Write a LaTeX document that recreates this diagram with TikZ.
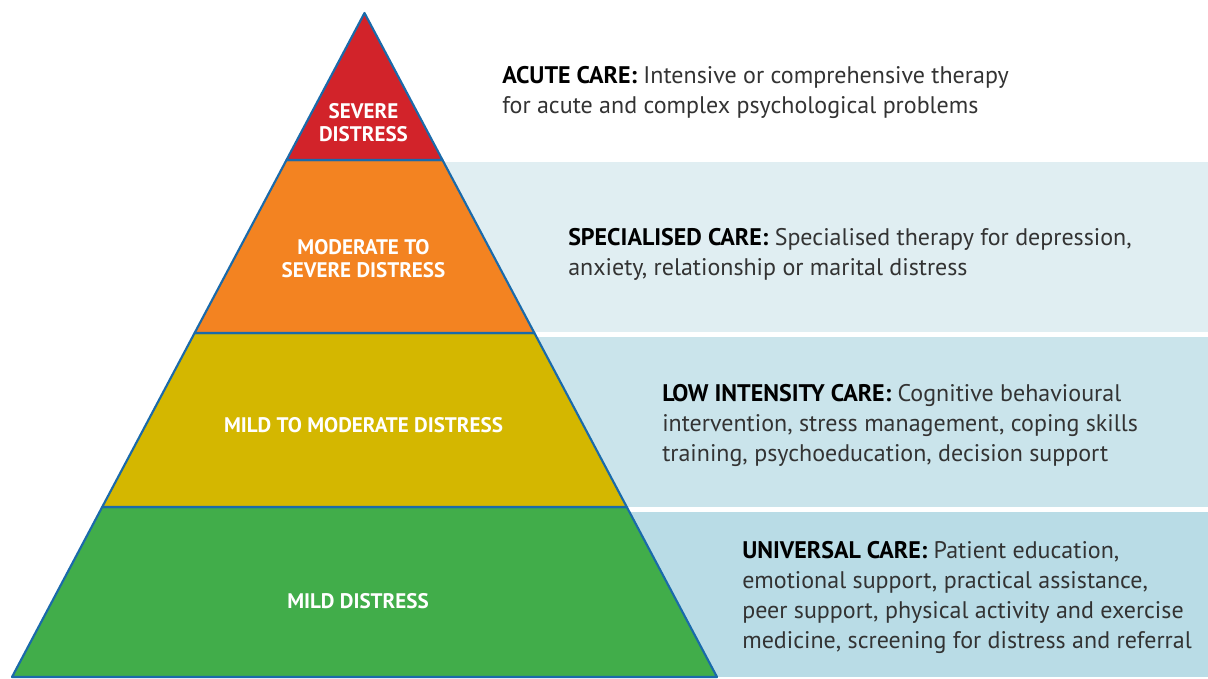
\documentclass[tikz,border=0pt]{standalone}
\usepackage{fontspec}
\setmainfont{PT Sans}
\usepackage{tikz}
\usetikzlibrary{positioning}
\definecolor{c_severe}{HTML}{D2232A}
\definecolor{c_modsev}{HTML}{F38321}
\definecolor{c_mildmod}{HTML}{D4B700}
\definecolor{c_mild}{HTML}{41AD4A}
\definecolor{c_edge}{HTML}{1A6AAA}
\definecolor{c_band1}{HTML}{E0EEF2}
\definecolor{c_band2}{HTML}{CAE4EB}
\definecolor{c_band3}{HTML}{B9DCE6}
\definecolor{c_text}{HTML}{333333}
\tikzset{layer/.style={draw=c_edge, line width=1.6pt, line join=round},
band/.style={draw=none},
level-label/.style={inner sep=0pt, text=white, align=center, font=\bfseries\fontsize{15.8}{17.25}\selectfont},
care-text/.style={anchor=base west, inner sep=0pt, align=left, text=c_text, font=\fontsize{18}{22.5}\selectfont}}

\begin{document}
\begin{tikzpicture}[x=0.75pt, y=-0.75pt]
\fill[white] (0,0) rectangle (1208,677);
% care bands behind the pyramid
\fill[band, c_band1] (440,162) rectangle (1208,331.5);
\fill[band, c_band2] (530,336.5) rectangle (1208,506.5);
\fill[band, c_band3] (620,511.5) rectangle (1208,677);
% pyramid layers
\filldraw[layer, fill=c_mild] (102.2,507) -- (626.8,507) -- (717,677) -- (12,677) -- cycle;
\filldraw[layer, fill=c_mildmod] (194.6,333) -- (534.4,333) -- (626.8,507) -- (102.2,507) -- cycle;
\filldraw[layer, fill=c_modsev] (286.5,160) -- (442.5,160) -- (534.4,333) -- (194.6,333) -- cycle;
\filldraw[layer, fill=c_severe] (364.5,13) -- (442.5,160) -- (286.5,160) -- cycle;
% level names
\node (severe) [level-label] at (363.5,122.5) {SEVERE\\DISTRESS};
\node (modsev) [level-label] at (363.5,258.5) {MODERATE TO\\SEVERE DISTRESS};
\node (mildmod) [level-label] at (363.5,425) {MILD TO MODERATE DISTRESS};
\node (mild) [level-label] at (358,601.5) {MILD DISTRESS};
% care descriptions (base = last line)
\node (acute) [care-text] at (502,113) {\textbf{\color{black}ACUTE CARE:} Intensive or comprehensive therapy\\
for acute and complex psychological problems};
\node (special) [care-text] at (568,275) {\textbf{\color{black}SPECIALISED CARE:} Specialised therapy for depression,\\
anxiety, relationship or marital distress};
\node (lowint) [care-text] at (662,461) {\textbf{\color{black}LOW INTENSITY CARE:} Cognitive behavioural\\
intervention, stress management, coping skills\\
training, psychoeducation, decision support};
\node (universal) [care-text] at (742,648) {\textbf{\color{black}UNIVERSAL CARE:} Patient education,\\
emotional support, practical assistance,\\
peer support, physical activity and exercise\\
medicine, screening for distress and referral};
\end{tikzpicture}
\end{document}
